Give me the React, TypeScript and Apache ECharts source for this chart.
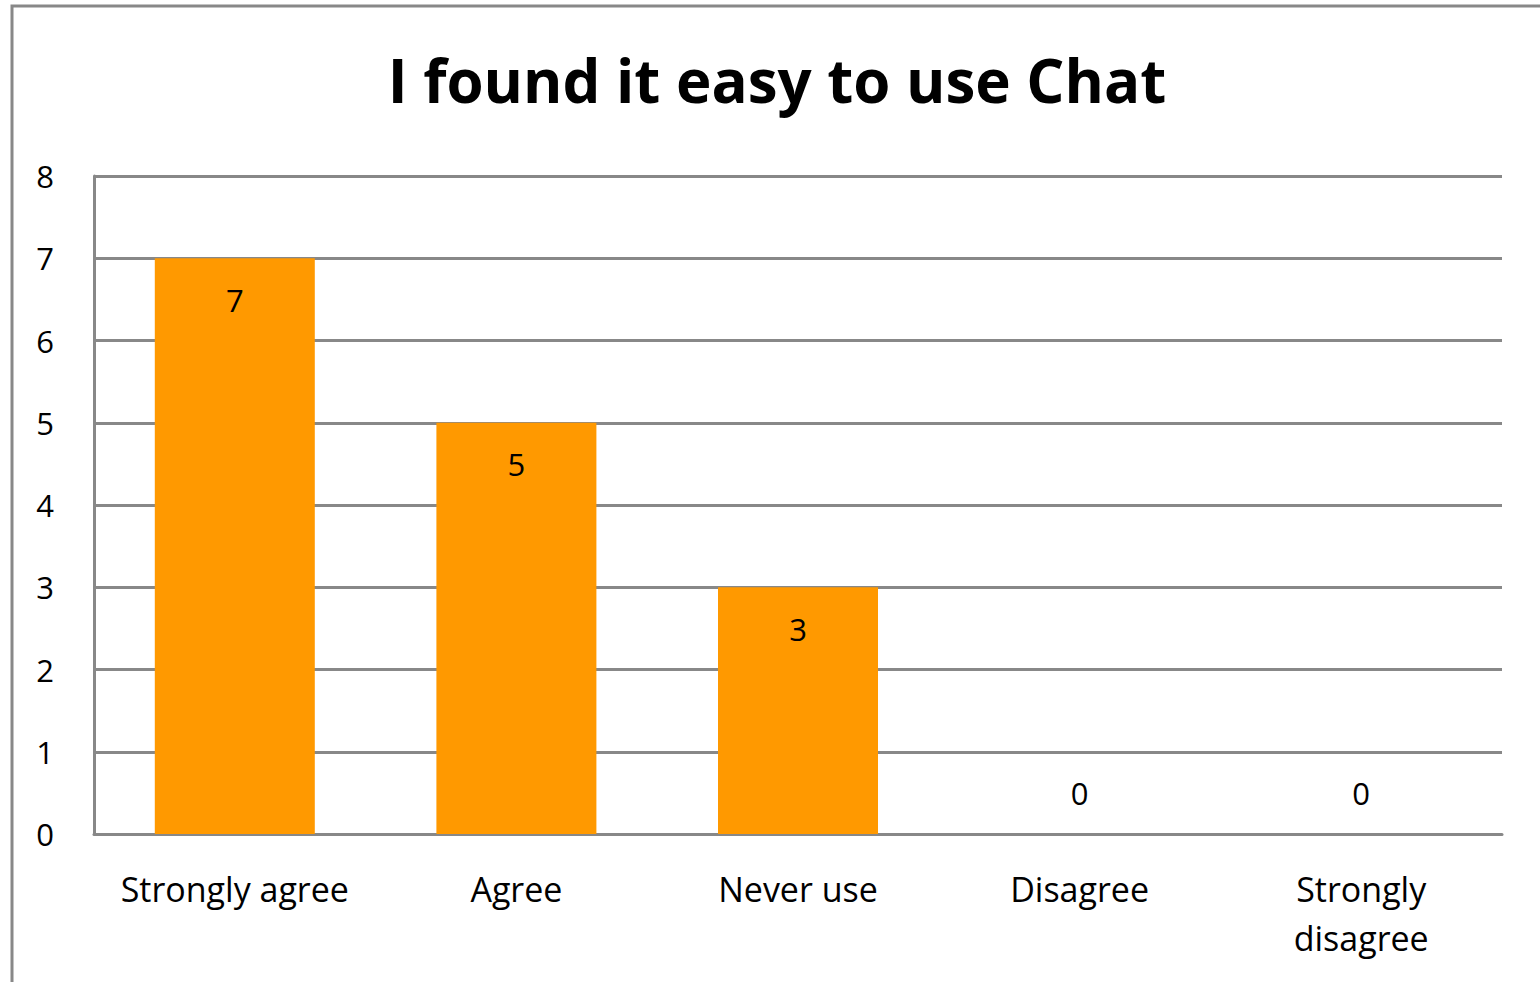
import React, { useEffect, useRef } from "react";
import * as echarts from "echarts";

const titleText = "I found it easy to use Chat";
const categories = ["Strongly agree", "Agree", "Never use", "Disagree", "Strongly disagree"];
const responses = [7, 5, 3, 0, 0];
const yTicks = { min: 0, max: 8, interval: 1 };

const FONT = "'Open Sans', sans-serif";

export default function App() {
  const ref = useRef<HTMLDivElement>(null);
  useEffect(() => {
    if (!ref.current) return;
    const chart = echarts.init(ref.current, null, { renderer: "svg" });
    chart.setOption({
      animation: false,
      backgroundColor: "#ffffff",
      title: {
        text: titleText,
        left: 777,
        textAlign: "center",
        top: 50,
        padding: 0,
        textStyle: { fontFamily: FONT, fontWeight: "bold", fontSize: 60, color: "#000" },
      },
      graphic: [
        {
          type: "rect",
          shape: { x: 12, y: 6, width: 1560, height: 1010 },
          style: { fill: "none", stroke: "#888888", lineWidth: 3 },
          z: -1,
        },
      ],
      grid: { left: 94, right: 38, top: 176, bottom: 148 },
      xAxis: {
        type: "category",
        data: categories,
        axisLine: { show: true, lineStyle: { color: "#888888", width: 3 } },
        axisTick: { show: false },
        axisLabel: {
          margin: 30,
          fontFamily: FONT,
          fontSize: 34,
          color: "#000",
          lineHeight: 49,
          interval: 0,
          formatter: (v: string) => (v === "Strongly disagree" ? "Strongly\ndisagree" : v),
        },
      },
      yAxis: {
        type: "value",
        min: yTicks.min,
        max: yTicks.max,
        interval: yTicks.interval,
        axisLine: { show: true, lineStyle: { color: "#888888", width: 3 } },
        axisTick: { show: false },
        splitLine: { show: true, lineStyle: { color: "#888888", width: 3 } },
        axisLabel: { margin: 40, fontFamily: FONT, fontSize: 31, color: "#000" },
      },
      series: [
        {
          type: "bar",
          barWidth: 160,
          itemStyle: { color: "#FF9900" },
          label: {
            show: true,
            position: "insideTop",
            distance: 26,
            fontFamily: FONT,
            fontSize: 31,
            color: "#000",
          },
          data: responses.map((v) =>
            v === 0
              ? { value: v, label: { position: "top", distance: 26 } }
              : { value: v }
          ),
        },
      ],
    });
    return () => chart.dispose();
  }, []);
  return (
    <div
      ref={ref}
      style={{ position: "fixed", left: 0, top: 0, width: 1540, height: 982 }}
    />
  );
}
